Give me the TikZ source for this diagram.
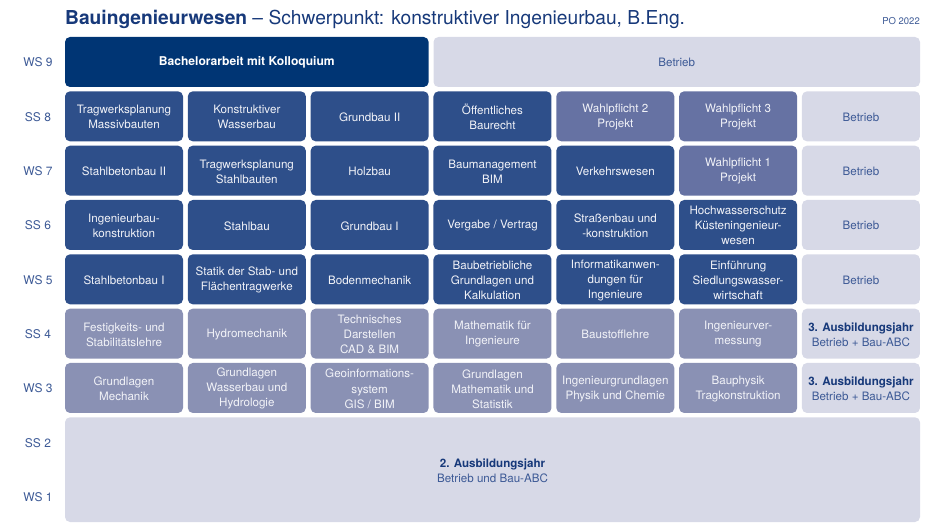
\documentclass[tikz,border=0pt]{standalone}
\usepackage{fontspec}
\setmainfont{TeX Gyre Heros}
\definecolor{navy}{HTML}{003574}
\definecolor{dkb}{HTML}{2E4F8A}
\definecolor{wpf}{HTML}{6672A3}
\definecolor{gry}{HTML}{8A91B4}
\definecolor{lgt}{HTML}{D7D9E7}
\definecolor{lbl}{HTML}{3D5A96}
\definecolor{ttl}{HTML}{17397A}
\definecolor{wtx}{HTML}{F2F3F8}
\tikzset{
  box/.style={rounded corners=5pt, inner sep=0pt, align=center,
    font=\fontsize{11.6}{15}\selectfont},
  darkbox/.style={box, fill=dkb, text=wtx},
  navybox/.style={box, fill=navy, text=white},
  wpfbox/.style={box, fill=wpf, text=wtx},
  graybox/.style={box, fill=gry, text=wtx},
  lightbox/.style={box, fill=lgt, text=lbl},
  semlabel/.style={text=lbl, font=\fontsize{12}{14}\selectfont, inner sep=0pt}
}
\newcommand\cell[5]{\node[#4, minimum width=118pt, minimum height=50pt] (#1) at ({124+(#2-1)*122.83},{62.8+#3*54.33}) {#5};
  \draw[#4, draw=none] ({65+(#2-1)*122.83},{37+#3*54.33}) rectangle ++(118,50);}
\newcommand\cellbox[5]{\path[#4] ({65+(#2-1)*122.83},{37+#3*54.33}) rectangle ++(118,50);
  \node[#4, fill=none, inner sep=0pt] (#1) at ({124+(#2-1)*122.83},{62.8+#3*54.33}) {#5};}
\begin{document}
\begin{tikzpicture}[x=1pt,y=-1pt]
\useasboundingbox (0,0) rectangle (945,532);
% title
\node[anchor=base west, inner sep=0pt, text=ttl, font=\fontsize{19.2}{22}\selectfont] (title) at (65,25)
  {\textbf{Bauingenieurwesen} -- Schwerpunkt: konstruktiver Ingenieurbau, B.Eng.};
\node[anchor=base east, inner sep=0pt, text=lbl, font=\fontsize{9.5}{11}\selectfont] (po) at (920,25) {PO 2022};
% semester labels
\foreach \t/\r in {WS 9/0, SS 8/1, WS 7/2, SS 6/3, WS 5/4, SS 4/5, WS 3/6, SS 2/7, WS 1/8}
  \node[semlabel] (lab\r) at (38,{62.5+\r*54.33}) {\t};
% row WS 9
\path[navybox] (65,37) rectangle (428.66,87);
\node[navybox, fill=none, font=\fontsize{12.1}{15}\selectfont] (bach) at (246.83,62.5)
  {\textbf{Bachelorarbeit mit Kolloquium}};
\path[lightbox] (433.5,37) rectangle (920,87);
\node[lightbox, fill=none] (betr9) at (676.75,62.5) {Betrieb};
% row SS 8
\cellbox{a81}{1}{1}{darkbox}{Tragwerksplanung\\Massivbauten}
\cellbox{a82}{2}{1}{darkbox}{Konstruktiver\\Wasserbau}
\cellbox{a83}{3}{1}{darkbox}{Grundbau II}
\cellbox{a84}{4}{1}{darkbox}{Öffentliches\\Baurecht}
\cellbox{a85}{5}{1}{wpfbox}{Wahlpflicht 2\\Projekt}
\cellbox{a86}{6}{1}{wpfbox}{Wahlpflicht 3\\Projekt}
\cellbox{a87}{7}{1}{lightbox}{Betrieb}
% row WS 7
\cellbox{a71}{1}{2}{darkbox}{Stahlbetonbau II}
\cellbox{a72}{2}{2}{darkbox}{Tragwerksplanung\\Stahlbauten}
\cellbox{a73}{3}{2}{darkbox}{Holzbau}
\cellbox{a74}{4}{2}{darkbox}{Baumanagement\\BIM}
\cellbox{a75}{5}{2}{darkbox}{Verkehrswesen}
\cellbox{a76}{6}{2}{wpfbox}{Wahlpflicht 1\\Projekt}
\cellbox{a77}{7}{2}{lightbox}{Betrieb}
% row SS 6
\cellbox{a61}{1}{3}{darkbox}{Ingenieurbau-\\konstruktion}
\cellbox{a62}{2}{3}{darkbox}{Stahlbau}
\cellbox{a63}{3}{3}{darkbox}{Grundbau I}
\cellbox{a64}{4}{3}{darkbox}{Vergabe / Vertrag}
\cellbox{a65}{5}{3}{darkbox}{Straßenbau und\\-konstruktion}
\cellbox{a66}{6}{3}{darkbox}{Hochwasserschutz\\Küsteningenieur-\\wesen}
\cellbox{a67}{7}{3}{lightbox}{Betrieb}
% row WS 5
\cellbox{a51}{1}{4}{darkbox}{Stahlbetonbau I}
\cellbox{a52}{2}{4}{darkbox}{Statik der Stab- und\\Flächentragwerke}
\cellbox{a53}{3}{4}{darkbox}{Bodenmechanik}
\cellbox{a54}{4}{4}{darkbox}{Baubetriebliche\\Grundlagen und\\Kalkulation}
\cellbox{a55}{5}{4}{darkbox}{Informatikanwen-\\dungen für\\Ingenieure}
\cellbox{a56}{6}{4}{darkbox}{Einführung\\Siedlungswasser-\\wirtschaft}
\cellbox{a57}{7}{4}{lightbox}{Betrieb}
% row SS 4
\cellbox{a41}{1}{5}{graybox}{Festigkeits- und\\Stabilitätslehre}
\cellbox{a42}{2}{5}{graybox}{Hydromechanik}
\cellbox{a43}{3}{5}{graybox}{Technisches\\Darstellen\\CAD \& BIM}
\cellbox{a44}{4}{5}{graybox}{Mathematik für\\Ingenieure}
\cellbox{a45}{5}{5}{graybox}{Baustofflehre}
\cellbox{a46}{6}{5}{graybox}{Ingenieurver-\\messung}
\cellbox{a47}{7}{5}{lightbox}{\textcolor{ttl}{\textbf{3. Ausbildungsjahr}}\\Betrieb + Bau-ABC}
% row WS 3
\cellbox{a31}{1}{6}{graybox}{Grundlagen\\Mechanik}
\cellbox{a32}{2}{6}{graybox}{Grundlagen\\Wasserbau und\\Hydrologie}
\cellbox{a33}{3}{6}{graybox}{Geoinformations-\\system\\GIS / BIM}
\cellbox{a34}{4}{6}{graybox}{Grundlagen\\Mathematik und\\Statistik}
\cellbox{a35}{5}{6}{graybox}{Ingenieurgrundlagen\\Physik und Chemie}
\cellbox{a36}{6}{6}{graybox}{Bauphysik\\Tragkonstruktion}
\cellbox{a37}{7}{6}{lightbox}{\textcolor{ttl}{\textbf{3. Ausbildungsjahr}}\\Betrieb + Bau-ABC}
% bottom
\path[lightbox] (65,417.3) rectangle (920,522);
\node[lightbox, fill=none] (jahr2) at (492.5,470.3)
  {\textcolor{ttl}{\textbf{2. Ausbildungsjahr}}\\Betrieb und Bau-ABC};
\end{tikzpicture}
\end{document}
